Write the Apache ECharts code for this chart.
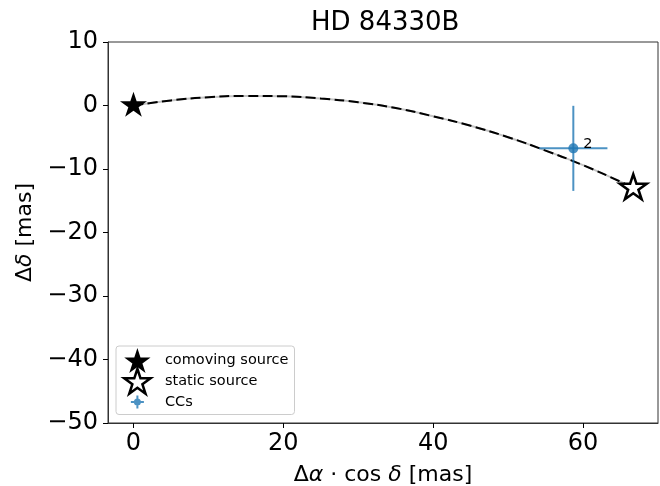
<!DOCTYPE html>
<html>
<head>
<meta charset="utf-8">
<script src="https://cdn.jsdelivr.net/npm/echarts@6/dist/echarts.min.js"></script>
<style>html,body{margin:0;padding:0;background:#fff;}#c{width:660px;height:486px;}</style>
</head>
<body>
<div id="c"></div>
<script>
// ---- data ----
var titleText = 'HD 84330B';
var xTicks = [0, 20, 40, 60];
var yTicks = [-50, -40, -30, -20, -10, 0, 10];
// predicted track of a static background source (x, y) in mas
var trackX = [0, 5, 10, 15, 20, 25, 30, 35, 40, 45, 50, 55, 60, 65, 66.7];
var trackY = [0, 0.8, 1.3, 1.5, 1.45, 1.1, 0.5, -0.4, -1.7, -3.2, -5.0, -7.1, -9.4, -12.0, -13.0];
var comoving = [0, 0];
var staticSrc = [66.7, -13.0];
// CCs: x, y, xerr, yerr, label
var ccX = [58.7];
var ccY = [-6.75];
var ccXerr = [4.55];
var ccYerr = [6.7];
var ccLabel = ['2'];

var FONT = 'DejaVu Sans';
var BLUE = 'rgba(31,119,180,0.8)';
var starPath = 'path://M0,-100 L22.45,-30.9 L95.1,-30.9 L36.3,11.8 L58.8,80.9 L0,38.2 L-58.8,80.9 L-36.3,11.8 L-95.1,-30.9 L-22.45,-30.9 Z';
var ccIcon = 'path://M-13.5,-12.5 M13.5,12.5 M-1,-6.5 L1,-6.5 L1,6.5 L-1,6.5 Z M-6.5,-1 L6.5,-1 L6.5,1 L-6.5,1 Z M-3.5,0 A3.5,3.5 0 1 1 3.5,0 A3.5,3.5 0 1 1 -3.5,0 Z';

var trackData = trackX.map(function (x, i) { return [x, trackY[i]]; });
var ccData = ccX.map(function (x, i) { return [x, ccY[i], ccXerr[i], ccYerr[i], ccLabel[i]]; });

function fmtMinus(v) { return v < 0 ? '\u2212' + Math.abs(v) : String(v); }

var chart = echarts.init(document.getElementById('c'), null, { renderer: 'canvas' });
chart.setOption({
  animation: false,
  backgroundColor: '#fff',
  title: {
    text: titleText, left: 306, top: 5,
    textStyle: { fontFamily: FONT, fontSize: 26, fontWeight: 'normal', color: '#000' }
  },
  grid: {
    left: 108, right: 2, top: 42, bottom: 63, containLabel: false, outerBoundsMode: 'none',
    show: true, borderColor: '#333', borderWidth: 1, backgroundColor: 'transparent'
  },
  legend: {
    left: 116, top: 346, orient: 'vertical',
    padding: [2, 6, 0, 7],
    itemWidth: 27, itemHeight: 25, itemGap: -5.5,
    backgroundColor: 'rgba(255,255,255,0.8)', borderColor: '#cccccc', borderWidth: 1, borderRadius: 3,
    textStyle: { fontFamily: FONT, fontSize: 14.5, color: '#000', padding: [0, 0, 0, 9] },
    data: [
      { name: 'comoving source', icon: starPath, itemStyle: { color: '#000', borderWidth: 0 } },
      { name: 'static source', icon: starPath, itemStyle: { color: '#fff', borderColor: '#000', borderWidth: 2.5 } },
      { name: 'CCs', icon: ccIcon, itemStyle: { color: BLUE, borderWidth: 0 } }
    ]
  },
  xAxis: {
    type: 'value', min: -3.4, max: 70,
    name: 'Δ{i|α} · cos {i|δ} [mas]', nameLocation: 'middle', nameGap: 41,
    nameTextStyle: { fontFamily: FONT, fontSize: 22, color: '#000', rich: { i: { fontFamily: FONT, fontSize: 22, fontStyle: 'italic', color: '#000' } } },
    axisLine: { show: true, onZero: false, lineStyle: { color: '#333', width: 1 } },
    axisTick: { show: true, length: 5, customValues: xTicks, lineStyle: { color: '#000', width: 1 } },
    axisLabel: { customValues: xTicks, margin: 9, fontFamily: FONT, fontSize: 24, color: '#000', formatter: fmtMinus },
    splitLine: { show: false }
  },
  yAxis: {
    type: 'value', min: -50, max: 10, interval: 10,
    name: 'Δ{i|δ} [mas]', nameLocation: 'middle', nameGap: 58,
    nameTextStyle: { fontFamily: FONT, fontSize: 22, color: '#000', rich: { i: { fontFamily: FONT, fontSize: 22, fontStyle: 'italic', color: '#000' } } },
    axisLine: { show: true, onZero: false, lineStyle: { color: '#333', width: 1 } },
    axisTick: { show: true, length: 5, lineStyle: { color: '#000', width: 1 } },
    axisLabel: { margin: 10, fontFamily: FONT, fontSize: 24, color: '#000', formatter: fmtMinus },
    splitLine: { show: false }
  },
  series: [
    {
      name: 'track-under', type: 'line', data: trackData, smooth: true, symbol: 'none', silent: true,
      lineStyle: { color: '#c4c4c4', width: 2 }, z: 2
    },
    {
      name: 'track', type: 'line', data: trackData, smooth: true, symbol: 'none', silent: true,
      lineStyle: { color: '#000', width: 2, type: [10, 4.4] }, z: 3
    },
    {
      name: 'CCs', type: 'custom', data: ccData, z: 4,
      itemStyle: { color: BLUE },
      renderItem: function (params, api) {
        var x = api.value(0), y = api.value(1), xe = api.value(2), ye = api.value(3);
        var c = api.coord([x, y]);
        var l = api.coord([x - xe, y]), r = api.coord([x + xe, y]);
        var t = api.coord([x, y + ye]), b = api.coord([x, y - ye]);
        var st = { stroke: BLUE, lineWidth: 2 };
        return {
          type: 'group',
          children: [
            { type: 'line', shape: { x1: l[0], y1: l[1], x2: r[0], y2: r[1] }, style: st },
            { type: 'line', shape: { x1: t[0], y1: t[1], x2: b[0], y2: b[1] }, style: st },
            { type: 'circle', shape: { cx: c[0], cy: c[1], r: 5 }, style: { fill: BLUE } },
            { type: 'text', x: c[0] + 10, y: c[1] - 4, style: { text: ccData[params.dataIndex][4], fontFamily: FONT, fontSize: 14.5, fill: '#000', verticalAlign: 'middle', align: 'left' } }
          ]
        };
      }
    },
    {
      name: 'comoving source', type: 'scatter', data: [comoving], symbol: starPath,
      symbolSize: [27, 25], symbolOffset: [0, -1.3], z: 5,
      itemStyle: { color: '#000', opacity: 1 }
    },
    {
      name: 'static source', type: 'scatter', data: [staticSrc], symbol: starPath,
      symbolSize: [27, 25], symbolOffset: [0, -1.3], z: 5,
      itemStyle: { color: '#fff', borderColor: '#000', borderWidth: 2.5, opacity: 1 }
    }
  ]
});
</script>
</body>
</html>
